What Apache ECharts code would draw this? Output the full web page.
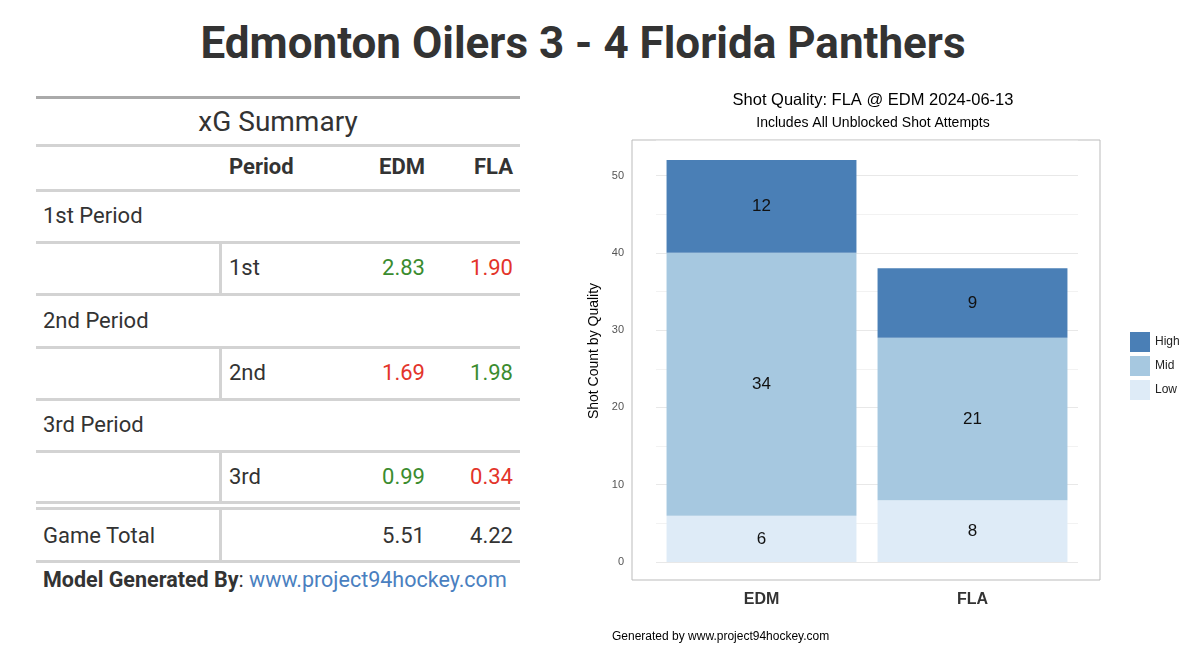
<!DOCTYPE html>
<html><head><meta charset="utf-8">
<script src="https://cdn.jsdelivr.net/npm/echarts@6/dist/echarts.min.js"></script>
<style>
body{margin:0;width:1200px;height:656px;background:#fff;font-family:Roboto,"Noto Sans",sans-serif;color:#333;position:relative;overflow:hidden}
.t{position:absolute;white-space:nowrap}
.h{position:absolute;left:36px;width:484px;background:#d3d3d3;height:3px}
.v{position:absolute;left:219px;width:3px;background:#d3d3d3}
#main{position:absolute;left:560px;top:75px;width:640px;height:581px}
</style></head><body>
<div class="t" style="left:0;width:1166px;text-align:center;top:17px;font-size:44px;font-weight:bold">Edmonton Oilers 3 - 4 Florida Panthers</div>
<div id="tbl"></div>
<div id="main"></div>
<div class="t" style="left:612px;top:629px;font-size:12px;color:#000;font-family:'Liberation Sans',sans-serif">Generated by www.project94hockey.com</div>
<script>
// 数据
let teams = ['EDM','FLA'];
let lowShots = [6, 8];
let midShots = [34, 21];
let highShots = [12, 9];
let periods = ['1st','2nd','3rd'];
let edmXg = [2.83, 1.69, 0.99];
let flaXg = [1.90, 1.98, 0.34];
let totals = ['5.51','4.22'];

// 左侧表格
let html = '';
function txt(x,y,s,style){ html += '<div class="t" style="left:'+x+'px;top:'+y+'px;'+(style||'')+'">'+s+'</div>'; }
function rtxt(r,y,s,style){ html += '<div class="t" style="right:'+(1200-r)+'px;top:'+y+'px;'+(style||'')+'">'+s+'</div>'; }
function hl(y,c){ html += '<div class="h" style="top:'+y+'px;'+(c?'background:'+c:'')+'"></div>'; }
hl(96,'#aaa');
html += '<div class="t" style="left:36px;width:484px;text-align:center;top:105px;font-size:28px">xG Summary</div>';
hl(144);
txt(229,154,'Period','font-size:22px;font-weight:bold');
rtxt(425,154,'EDM','font-size:22px;font-weight:bold');
rtxt(513,154,'FLA','font-size:22px;font-weight:bold');
hl(189);
let y0 = 189;
periods.forEach(function(p,i){
  let y = y0 + i*104.5;
  txt(43,y+14,p+' Period','font-size:22px');
  hl(y+52);
  html += '<div class="v" style="top:'+(y+52)+'px;height:52px"></div>';
  txt(229,y+66,p,'font-size:22px');
  let e = edmXg[i], f = flaXg[i];
  rtxt(425,y+66,e.toFixed(2),'font-size:22px;color:'+(e>f?'#3b8c2f':'#e3342a'));
  rtxt(513,y+66,f.toFixed(2),'font-size:22px;color:'+(f>e?'#3b8c2f':'#e3342a'));
  if(i<2) hl(y+104);
});
hl(501); hl(507);
html += '<div class="v" style="top:507px;height:54px"></div>';
txt(43,523,'Game Total','font-size:22px');
rtxt(425,523,totals[0],'font-size:22px');
rtxt(513,523,totals[1],'font-size:22px');
hl(560);
txt(43,567,'<b>Model Generated By</b>: <span style="color:#4a7fc0">www.project94hockey.com</span>','font-size:21.5px');
document.getElementById('tbl').innerHTML = html;

// 右侧图表
let myChart = echarts.init(document.getElementById('main'));
let lbl = {show:true,color:'#111',fontSize:17,fontFamily:'Liberation Sans'};
function ser(name,data,color){
  return {name:name,type:'bar',stack:'s',data:data,barWidth:'90%',itemStyle:{color:color},label:lbl};
}
let option = {
  animation:false,
  title:{text:'Shot Quality: FLA @ EDM 2024-06-13',subtext:'Includes All Unblocked Shot Attempts',
    left:308,top:12,textAlign:'center',itemGap:7,
    textStyle:{fontSize:16.5,fontWeight:'normal',color:'#000',fontFamily:'Liberation Sans'},
    subtextStyle:{fontSize:14,color:'#000',fontFamily:'Liberation Sans'}},
  legend:{data:['High','Mid','Low'],orient:'vertical',left:565,top:252,itemWidth:20,itemHeight:20,itemGap:4,
    icon:'rect',textStyle:{fontSize:12,color:'#222',fontFamily:'Liberation Sans'}},
  grid:{left:96,top:65,width:422,height:422},
  graphic:[{type:'rect',shape:{x:72,y:65,width:468,height:440},style:{fill:'none',stroke:'#bbb',lineWidth:1}}],
  xAxis:{type:'category',data:teams,axisLine:{show:false},axisTick:{show:false},
    axisLabel:{fontSize:16,fontWeight:'bold',color:'#333',margin:30,fontFamily:'Liberation Sans'}},
  yAxis:{type:'value',min:0,max:54.6,interval:10,name:'Shot Count by Quality',nameLocation:'middle',nameGap:54,
    nameTextStyle:{fontSize:14,color:'#000',fontFamily:'Liberation Sans'},
    axisLabel:{color:'#555',fontSize:11,margin:32,formatter:function(v){return v%10===0?v:'';}},
    splitLine:{lineStyle:{color:'#e8e8e8'}},
    minorTick:{show:false,splitNumber:2},minorSplitLine:{show:true,lineStyle:{color:'#f2f2f2'}}},
  series:[ser('Low',lowShots,'#deebf7'),ser('Mid',midShots,'#a6c8e0'),ser('High',highShots,'#4a7fb6')]
};
myChart.setOption(option,true);
</script></body></html>
